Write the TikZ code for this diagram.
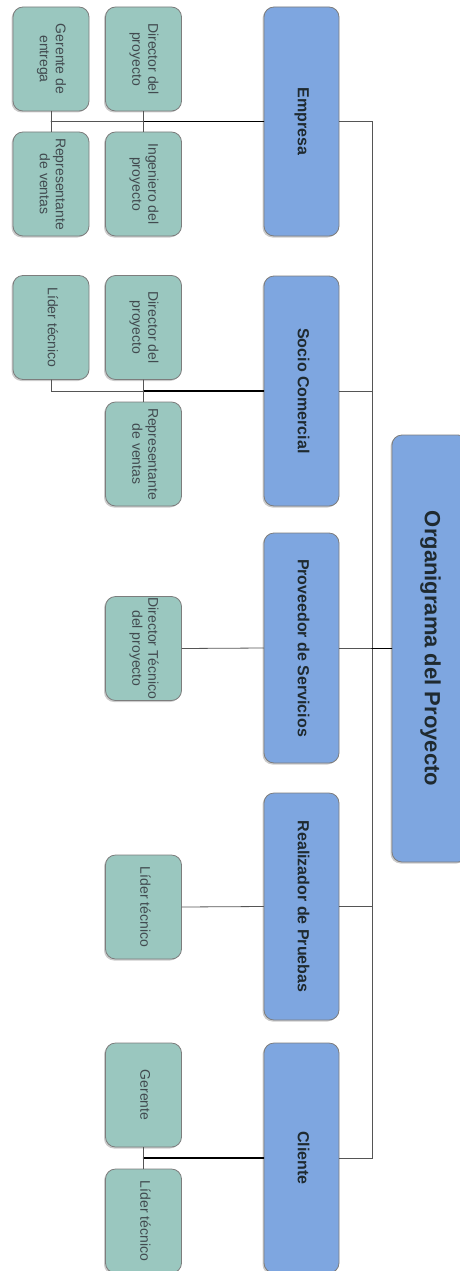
\documentclass[tikz,border=0pt]{standalone}
\usepackage{fontspec}
\setmainfont{Liberation Sans}
\usepackage{graphicx}
\usepackage{xcolor}
\usepackage{tikz}
\usetikzlibrary{calc, shadows}
\definecolor{orgBlue}{HTML}{7EA6E0}
\definecolor{orgGreen}{HTML}{9AC7BF}
\definecolor{orgBorder}{HTML}{7D7D7D}
\definecolor{orgLine}{HTML}{555555}
\definecolor{orgText}{HTML}{1F2A30}
\newcommand{\VText}[1]{\rotatebox{-90}{\begin{tabular}{@{}c@{}}#1\end{tabular}}}

\begin{document}
\begin{tikzpicture}[x=1pt, y=-1pt, line cap=round,
	caja/.style={draw=orgBorder, line width=0.8pt, rounded corners=10pt, inner sep=0pt,
		drop shadow={shadow xshift=-1.5pt, shadow yshift=-1.5pt, fill=black!40, opacity=0.5}},
	area/.style={caja, fill=orgBlue, minimum width=75pt, minimum height=230pt,
		font=\fontsize{16}{18}\selectfont\bfseries, text=orgText},
	puesto/.style={caja, fill=orgGreen, minimum width=76pt, minimum height=104pt,
		font=\fontsize{14}{16}\selectfont, text=orgText!85},
	linea/.style={draw=orgLine, line width=0.8pt},
	lineafuerte/.style={draw=black, line width=1.4pt}]

	\useasboundingbox (0,0) rectangle (460,1271);

	% titulo
	\node[area, minimum width=76pt, minimum height=427pt, font=\fontsize{22}{26}\selectfont\bfseries] (titulo) at (430,648.5) {\VText{Organigrama del Proyecto}};

	% areas
	\node[area, minimum height=229pt] (emp) at (301.5,121.5) {\VText{Empresa}};
	\node[area] (soc) at (301.5,391) {\VText{Socio Comercial}};
	\node[area] (prov) at (301.5,648) {\VText{Proveedor de Servicios}};
	\node[area, minimum height=227pt] (real) at (301.5,906.5) {\VText{Realizador de Pruebas}};
	\node[area] (cli) at (301.5,1158) {\VText{Cliente}};

	% puestos
	\node[puesto] (empGer) at (51,59) {\VText{Gerente de\\entrega}};
	\node[puesto] (empRep) at (51,184) {\VText{Representante\\de ventas}};
	\node[puesto] (empDir) at (143.5,59) {\VText{Director del\\proyecto}};
	\node[puesto] (empIng) at (143.5,184) {\VText{Ingeniero del\\proyecto}};

	\node[puesto] (socLid) at (51,327.5) {\VText{Líder técnico}};
	\node[puesto] (socDir) at (143.5,327.5) {\VText{Director del\\proyecto}};
	\node[puesto] (socRep) at (143.5,454) {\VText{Representante\\de ventas}};

	\node[puesto] (provDir) at (143.5,648.5) {\VText{Director Técnico\\del proyecto}};

	\node[puesto] (realLid) at (143.5,907) {\VText{Líder técnico}};

	\node[puesto] (cliGer) at (143.5,1095) {\VText{Gerente}};
	\node[puesto] (cliLid) at (143.5,1221) {\VText{Líder técnico}};

	% tronco
	\coordinate (tronco) at (372,0);
	\draw[linea] (emp.east) -- (emp.east -| tronco) -- (cli.east -| tronco) -- (cli.east);
	\draw[linea] (soc.east) -- (soc.east -| tronco);
	\draw[linea] (prov.east) -- (prov.east -| tronco);
	\draw[linea] (real.east) -- (real.east -| tronco);
	\draw[lineafuerte] (titulo.west) -- (titulo.west -| tronco);

	% ramas
	\draw[lineafuerte] (emp.west) -- (emp.west -| empDir.south);
	\draw[linea] (emp.west -| empDir.south) -- (emp.west -| empGer.south);
	\draw[linea] (empDir.south) -- (empIng.north);
	\draw[linea] (empGer.south) -- (empRep.north);

	\draw[lineafuerte] (soc.west) -- (soc.west -| socDir.south);
	\draw[linea] (soc.west -| socDir.south) -| (socLid.south);
	\draw[linea] (socDir.south) -- (socRep.north);

	\draw[linea] (provDir.east) -- (prov.west);
	\draw[linea] (realLid.east) -- (real.west);

	\draw[lineafuerte] (cli.west) -- (cli.west -| cliGer.south);
	\draw[linea] (cliGer.south) -- (cliLid.north);

\end{tikzpicture}
\end{document}
